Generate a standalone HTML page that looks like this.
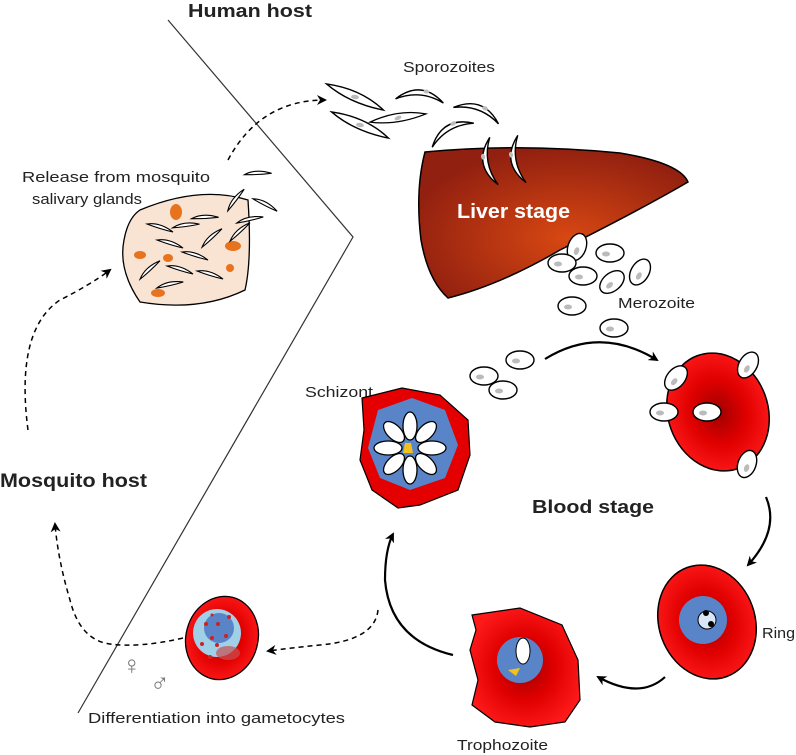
<!DOCTYPE html>
<html><head><style>body{margin:0;background:#fff}svg{display:block}text{font-family:"Liberation Sans",sans-serif;fill:#222}</style></head><body>
<svg width="796" height="755" viewBox="0 0 796 755" xmlns="http://www.w3.org/2000/svg">
<defs>
<radialGradient id="rbc" cx="50%" cy="50%" r="55%"><stop offset="0" stop-color="#a00000"/><stop offset="0.5" stop-color="#e00000"/><stop offset="1" stop-color="#ff1a1a"/></radialGradient>
<radialGradient id="liv" cx="55%" cy="60%" r="60%"><stop offset="0" stop-color="#d84812"/><stop offset="1" stop-color="#922010"/></radialGradient>
<marker id="ah" markerWidth="10" markerHeight="10" refX="8" refY="5" orient="auto" markerUnits="userSpaceOnUse"><path d="M0,0 L10,5 L0,10 L3,5z" fill="#000"/></marker>
<g id="spd"><path d="M-30,-9 Q5,-9 30,9 Q-5,7 -30,-9z" fill="#fff" stroke="#000" stroke-width="1.4"/><ellipse cx="0" cy="0" rx="4" ry="2.2" fill="#bbb"/></g>
<g id="cr"><path d="M-24,6 Q0,-16 24,6 Q0,-6 -24,6z" fill="#fff" stroke="#000" stroke-width="1.4"/><ellipse cx="6" cy="-4" rx="3" ry="2" fill="#bbb"/></g>
<g id="ss"><path d="M-13,-4 Q0,-6 13,4 Q0,1 -13,-4z" fill="#fff" stroke="#000" stroke-width="1.1"/></g>
<g id="mz"><ellipse cx="0" cy="0" rx="14" ry="9" fill="#fff" stroke="#000" stroke-width="1.4"/><ellipse cx="-4" cy="1" rx="4" ry="2.5" fill="#bbb"/></g>
</defs>
<path d="M168,20 L353,237 L78,713" fill="none" stroke="#333" stroke-width="1.2"/>
<text x="188" y="17" font-size="18" font-weight="bold" textLength="124" lengthAdjust="spacingAndGlyphs">Human host</text>
<text x="403" y="72" font-size="15" textLength="92" lengthAdjust="spacingAndGlyphs">Sporozoites</text>
<text x="22" y="182" font-size="15" textLength="188" lengthAdjust="spacingAndGlyphs">Release  from  mosquito</text>
<text x="32" y="204" font-size="15" textLength="110" lengthAdjust="spacingAndGlyphs">salivary glands</text>
<text x="0" y="487" font-size="19" font-weight="bold" textLength="147" lengthAdjust="spacingAndGlyphs">Mosquito host</text>
<text x="532" y="513" font-size="18" font-weight="bold" textLength="122" lengthAdjust="spacingAndGlyphs">Blood stage</text>
<text x="618" y="308" font-size="15" textLength="77" lengthAdjust="spacingAndGlyphs">Merozoite</text>
<text x="305" y="397" font-size="15" textLength="68" lengthAdjust="spacingAndGlyphs">Schizont</text>
<text x="762" y="638" font-size="15" textLength="33" lengthAdjust="spacingAndGlyphs">Ring</text>
<text x="457" y="750" font-size="15" textLength="91" lengthAdjust="spacingAndGlyphs">Trophozoite</text>
<text x="88" y="723" font-size="15" textLength="257" lengthAdjust="spacingAndGlyphs">Differentiation  into  gametocytes</text>
<path d="M140,210 Q200,185 248,200 Q252,260 245,290 Q200,312 140,302 Q118,270 124,240 Q128,218 140,210z" fill="#f9e3d3" stroke="#000" stroke-width="1.3"/>
<g fill="#e8731e"><ellipse cx="176" cy="212" rx="6" ry="8"/><ellipse cx="233" cy="246" rx="8" ry="5"/><ellipse cx="140" cy="255" rx="6" ry="4"/><ellipse cx="168" cy="258" rx="5" ry="4"/><ellipse cx="158" cy="293" rx="7" ry="4"/><ellipse cx="230" cy="268" rx="4" ry="4"/></g>
<use href="#ss" transform="translate(160,228)"/><use href="#ss" transform="translate(186,226) rotate(-25)"/><use href="#ss" transform="translate(170,244)"/><use href="#ss" transform="translate(195,256)"/><use href="#ss" transform="translate(180,270)"/><use href="#ss" transform="translate(210,275)"/><use href="#ss" transform="translate(150,270) rotate(-60)"/><use href="#ss" transform="translate(212,238) rotate(-60)"/><use href="#ss" transform="translate(205,218) rotate(-20)"/><use href="#ss" transform="translate(170,285) rotate(-30)"/>
<use href="#ss" transform="translate(236,200) rotate(-70)"/><use href="#ss" transform="translate(258,174) rotate(-20)"/><use href="#ss" transform="translate(265,205) rotate(10)"/><use href="#ss" transform="translate(250,220) rotate(-30)"/><use href="#ss" transform="translate(240,232) rotate(-60)"/>
<use href="#spd" transform="translate(355,97) rotate(8)"/><use href="#cr" transform="translate(420,95) rotate(5)"/><use href="#spd" transform="translate(398,118) rotate(-25) scale(.9)"/><use href="#spd" transform="translate(360,125) rotate(8)"/><use href="#cr" transform="translate(478,110) rotate(20)"/><use href="#cr" transform="translate(450,130) rotate(-30)"/>
<path d="M425,152 Q520,143 620,153 Q680,163 688,182 Q640,210 560,250 Q500,285 448,298 Q428,280 421,240 Q415,190 425,152z" fill="url(#liv)" stroke="#000" stroke-width="1.5"/>
<text x="457" y="218" font-size="20" font-weight="bold" style="fill:#fff" textLength="113" lengthAdjust="spacingAndGlyphs">Liver stage</text>
<use href="#cr" transform="translate(488,162) rotate(-100)"/><use href="#cr" transform="translate(516,160) rotate(-100)"/>
<use href="#mz" transform="translate(577,247) rotate(-70)"/><use href="#mz" transform="translate(562,263)"/><use href="#mz" transform="translate(610,253)"/><use href="#mz" transform="translate(583,276)"/><use href="#mz" transform="translate(612,282) rotate(-40)"/><use href="#mz" transform="translate(640,272) rotate(-60)"/><use href="#mz" transform="translate(572,306)"/><use href="#mz" transform="translate(614,328)"/>
<use href="#mz" transform="translate(484,376)"/><use href="#mz" transform="translate(520,360)"/><use href="#mz" transform="translate(503,390)"/>
<ellipse cx="718" cy="412" rx="50" ry="60" transform="rotate(-20 718 412)" fill="url(#rbc)" stroke="#000" stroke-width="1.5"/>
<use href="#mz" transform="translate(676,378) rotate(-50)"/><use href="#mz" transform="translate(748,365) rotate(-60)"/><use href="#mz" transform="translate(664,412)"/><use href="#mz" transform="translate(707,412)"/><use href="#mz" transform="translate(747,464) rotate(-70)"/>
<ellipse cx="707" cy="622" rx="48" ry="58" transform="rotate(-20 707 622)" fill="url(#rbc)" stroke="#000" stroke-width="1.5"/>
<circle cx="703" cy="620" r="24" fill="#5a84c8"/><circle cx="707" cy="620" r="9" fill="#d8e6f5" stroke="#000"/><circle cx="706" cy="613" r="3"/><circle cx="711" cy="624" r="3"/>
<path d="M472,615 L520,608 L562,625 L578,660 L580,700 L565,722 L530,727 L495,722 L472,705 L478,680 L470,650 L476,630z" fill="url(#rbc)" stroke="#000" stroke-width="1.2"/>
<circle cx="520" cy="660" r="23" fill="#5a84c8"/><ellipse cx="523" cy="651" rx="7" ry="13" fill="#fff" stroke="#000"/><path d="M508,670 L520,668 L516,676z" fill="#f3c11b"/>
<path d="M362,398 L402,388 L440,395 L468,420 L470,455 L458,490 L420,505 L398,508 L372,490 L360,460 L364,430z" fill="#e40000" stroke="#000" stroke-width="1.2"/>
<path d="M378,410 L412,398 L445,410 L458,445 L445,478 L410,490 L380,478 L368,448z" fill="#5a84c8"/>
<g transform="translate(410,448)" fill="#fff" stroke="#000" stroke-width="1.3"><ellipse cx="0" cy="-22" rx="7" ry="14"/><ellipse cx="0" cy="22" rx="7" ry="14"/><ellipse cx="-22" cy="0" rx="14" ry="7"/><ellipse cx="22" cy="0" rx="14" ry="7"/><ellipse cx="-16" cy="-16" rx="7" ry="13" transform="rotate(-45 -16 -16)"/><ellipse cx="16" cy="-16" rx="7" ry="13" transform="rotate(45 16 -16)"/><ellipse cx="-16" cy="16" rx="7" ry="13" transform="rotate(45 -16 16)"/><ellipse cx="16" cy="16" rx="7" ry="13" transform="rotate(-45 16 16)"/></g>
<path d="M405,443 L411,443 L413,453 L403,453z" fill="#f3c11b"/>
<ellipse cx="222" cy="638" rx="36" ry="42" transform="rotate(15 222 638)" fill="url(#rbc)" stroke="#000" stroke-width="1.3"/>
<circle cx="217" cy="633" r="24" fill="#9fd0e8"/><circle cx="219" cy="628" r="15" fill="#5a84c8"/><ellipse cx="228" cy="653" rx="12" ry="7" fill="#c85050" opacity=".7"/>
<g fill="#d02020"><circle cx="206" cy="624" r="2"/><circle cx="212" cy="615" r="1.5"/><circle cx="218" cy="624" r="2"/><circle cx="212" cy="638" r="2"/><circle cx="226" cy="636" r="2"/><circle cx="229" cy="617" r="2"/><circle cx="202" cy="644" r="2"/><circle cx="217" cy="645" r="2"/><circle cx="210" cy="657" r="2"/></g>
<text x="122" y="674" font-size="26" style="fill:#777">♀</text><text x="150" y="692" font-size="26" style="fill:#777">♂</text>
<g fill="none" stroke="#000" stroke-width="2.2" marker-end="url(#ah)">
<path d="M545,359 Q600,325 657,360"/>
<path d="M766,497 Q780,530 748,565"/>
<path d="M665,677 Q640,700 598,677"/>
<path d="M453,655 Q390,640 385,580 Q385,550 393,534"/>
</g>
<g fill="none" stroke="#000" stroke-width="1.5" stroke-dasharray="5,4" marker-end="url(#ah)">
<path d="M378,610 Q375,640 320,645 Q290,648 268,651"/>
<path d="M183,638 Q140,648 110,644 Q80,640 70,600 Q58,560 55,524"/>
<path d="M28,430 Q15,330 60,300 Q90,285 110,270"/>
<path d="M228,160 Q260,100 325,100"/>
</g>
</svg>
</body></html>
